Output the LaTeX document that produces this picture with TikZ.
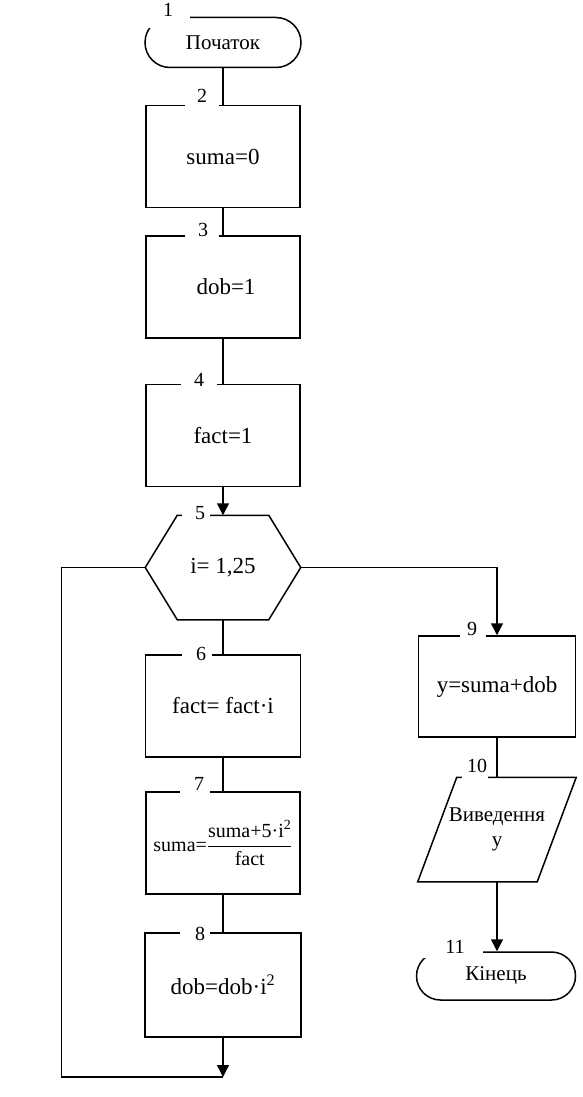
\documentclass[tikz,border=0pt]{standalone}
\usepackage{fontspec}
\setmainfont{Liberation Serif}
\usetikzlibrary{arrows.meta,calc}
\begin{document}
\begin{tikzpicture}[x=1pt,y=-1pt, line width=1.5pt,
  every node/.style={font=\fontsize{23}{27}\selectfont},
  cyr/.style={font=\fontsize{21}{25}\selectfont},
  blk/.style={draw, rectangle, minimum width=154pt, minimum height=102pt, inner sep=0pt},
  term/.style={draw, rectangle, rounded corners=25pt, minimum width=156pt, minimum height=50pt, inner sep=0pt},
  plainbox/.style={rectangle, inner sep=0pt},
  num/.style={inner sep=0pt, font=\fontsize{20}{23}\selectfont},
  arr/.style={-{Triangle[length=12pt,width=12pt]}}]
\useasboundingbox (0,0) rectangle (583,1097);

% left column
\node[term, cyr] (t1) at (223,42.5) {Початок};
\node[blk] (b2) at (223,156.5) {suma=0};
\node[blk] (b3) at (223,287) {\hspace{6pt}dob=1};
\node[blk] (b4) at (223,435.5) {fact=1};
\node[plainbox, minimum width=154pt, minimum height=103pt] (h5) at (223,567.5) {i= 1,25\hspace{16pt}};
\draw (h5.west) -- ($(h5.north west)+(32,0)$) -- ($(h5.north east)+(-32,0)$) -- (h5.east)
      -- ($(h5.south east)+(-32,0)$) -- ($(h5.south west)+(32,0)$) -- cycle;
\node[blk, minimum width=155pt] (b6) at (223,706) {fact= fact·i\hspace{10pt}};
\node[blk, font=\fontsize{20}{24}\selectfont] (b7) at (223,843)
  {suma=$\displaystyle\frac{\mbox{suma+5·i\textsuperscript{2}}}{\mbox{fact}}$\hspace{3pt}};
\node[blk, minimum width=156pt, minimum height=104pt] (b8) at (223,985) {dob=dob·i\textsuperscript{2}\hspace{6pt}};
\coordinate (j) at (223,1077);

% right column
\node[blk, minimum width=157pt, minimum height=101pt] (b9) at (497,686.5) {y=suma+dob};
\node[plainbox, cyr, minimum width=157pt, minimum height=103pt, align=center] (p10) at (497,829.5) {Виведення\\y};
\draw ($(p10.north west)+(39,0)$) -- (p10.north east) -- ($(p10.south east)+(-39,0)$)
      -- (p10.south west) -- cycle;
\node[term, cyr, minimum width=159pt, minimum height=48pt, rounded corners=24pt] (t11) at (496,976) {Кінець};

% connectors
\draw (t1.south) -- (b2.north);
\draw (b2.south) -- (b3.north);
\draw (b3.south) -- (b4.north);
\draw[arr] (b4.south) -- (h5.north);
\draw (h5.south) -- (b6.north);
\draw (b6.south) -- (b7.north);
\draw (b7.south) -- (b8.north);
\draw[arr] (b8.south) -- (j);
\draw (h5.west) -- ++(-84,0) |- (j);
\draw[arr] (h5.east) -| (b9.north);
\draw (b9.south) -- (p10.north);
\draw[arr] (p10.south) -- (p10.south |- t11.north);

% gaps for numbers
\fill[white] (140,0) rectangle (190,28);
\fill[white] (185,94) rectangle (219,110);
\fill[white] (185,224) rectangle (219,240);
\fill[white] (181,372) rectangle (217,388);
\fill[white] (182,506) rectangle (210,520);
\fill[white] (182,646) rectangle (212,659);
\fill[white] (180,780) rectangle (210,796);
\fill[white] (180,924) rectangle (210,937);
\fill[white] (460,624) rectangle (486,640);
\fill[white] (462,760) rectangle (488,782);
\fill[white] (410,930) rectangle (483,958);

% numbers
\node[num] (n1) at (168,10) {1};
\node[num] (n2) at (202,96) {2};
\node[num] (n3) at (203,230) {3};
\node[num] (n4) at (199,380) {4};
\node[num] (n5) at (200,513) {5};
\node[num] (n6) at (201,654) {6};
\node[num] (n7) at (199,784) {7};
\node[num] (n8) at (200,934) {8};
\node[num] (n9) at (472,629) {9};
\node[num] (n10) at (477,766) {10};
\node[num] (n11) at (455,947) {11};
\end{tikzpicture}
\end{document}
